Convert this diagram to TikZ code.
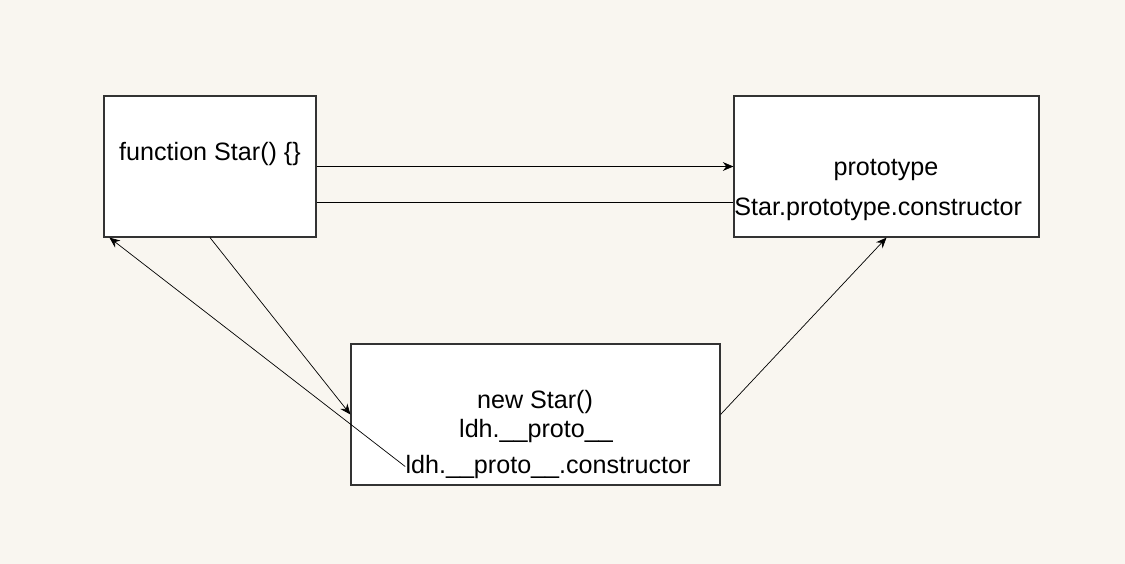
\documentclass[tikz,border=0pt]{standalone}
\usepackage{fontspec}
\setmainfont{Liberation Sans}
\usetikzlibrary{arrows.meta,positioning,calc}
\definecolor{bgpaper}{HTML}{F9F6F0}
\definecolor{boxline}{HTML}{333333}

\begin{document}
\begin{tikzpicture}[>={Stealth[length=6pt,width=5pt]}, x=0.02cm, y=-0.02cm,
  box/.style={draw=boxline, line width=0.7pt, fill=white, minimum width=#1, minimum height=2.82cm, inner sep=0},
  lbl/.style={inner sep=0, font=\fontsize{14.3}{17}\selectfont, anchor=base}]

  % Background
  \fill[bgpaper] (0,0) rectangle (1125,564);

  % Define coordinates for boxes
  \node[box=4.24cm] (F) at (210,166.5) {};
  \node[box=6.1cm] (P) at (886.5,166.5) {};
  \node[box=7.38cm] (N) at (535.5,414.5) {};

  % Texts inside the boxes
  \node[lbl] (f1) at (210,161) {function Star() \{\}};
  \node[lbl] (p1) at (886,176) {prototype};
  \node[lbl, anchor=base west] (p2) at (734,215) {Star.prototype.constructor};
  \node[lbl] (n1) at (535,408) {new Star()};
  \node[lbl] (n2) at (536,437) {ldh.\_\_proto\_\_};
  \node[lbl] (n3) at (548,473) {ldh.\_\_proto\_\_.constructor};

  % Draw arrows between nodes
  \draw[->] (F.east) -- (P.west);
  \draw ($(F.east)+(0,35.5)$) -- ($(P.west)+(0,35.5)$);
  \draw[->] (F.south) -- (N.west);
  \draw[->] (n3.west) -- ($(F.south west)+(6,0)$);
  \draw[->] (N.east) -- (P.south);
\end{tikzpicture}
\end{document}
